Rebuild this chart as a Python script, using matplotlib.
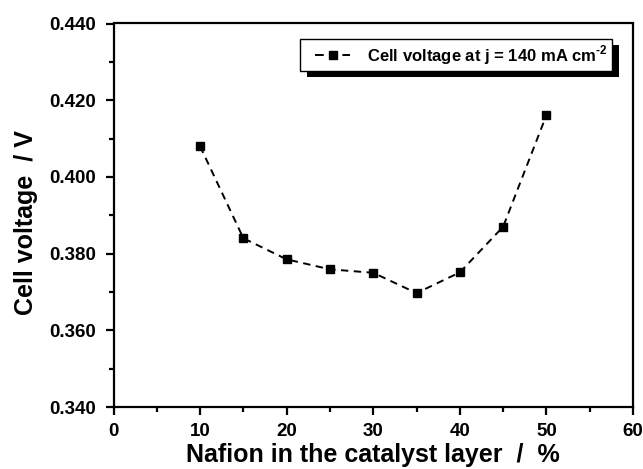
import matplotlib
matplotlib.use("Agg")
import matplotlib.pyplot as plt
from matplotlib.patches import Rectangle
from matplotlib.lines import Line2D
from matplotlib.legend_handler import HandlerLine2D

nafion = [10, 15, 20, 25, 30, 35, 40, 45, 50]
voltage = [0.408, 0.384, 0.3785, 0.3759, 0.3750, 0.3697, 0.3751, 0.3870, 0.4161]
xticks = [0, 10, 20, 30, 40, 50, 60]
yticks = [0.340, 0.360, 0.380, 0.400, 0.420, 0.440]
legend_label = r"Cell voltage at j = 140 mA cm$^{\text{-2}}$"

plt.rcParams['font.family'] = ['Liberation Sans', 'DejaVu Sans']
plt.rcParams['font.weight'] = 'bold'
plt.rcParams['mathtext.fontset'] = 'custom'
plt.rcParams['mathtext.rm'] = 'Liberation Sans:bold'
plt.rcParams['mathtext.bf'] = 'Liberation Sans:bold'

fig = plt.figure(figsize=(6.43, 4.69), dpi=100)
ax = fig.add_axes([113.5/643, 1 - 407/469, (633 - 113.5)/643, (407 - 23.5)/469])

ax.plot(nafion, voltage, color='black', linestyle=(0, (3.8, 2.8)), linewidth=1.4,
        marker='s', markersize=6.2)

ax.set_xlim(0, 60)
ax.set_ylim(0.34, 0.44)
ax.set_xticks(xticks)
ax.set_yticks(yticks)
ax.set_xticks(range(5, 60, 10), minor=True)
ax.set_yticks([0.35, 0.37, 0.39, 0.41, 0.43], minor=True)
ax.set_xticklabels([str(v) for v in xticks])
ax.set_yticklabels([f"{v:.3f}" for v in yticks])

for s in ax.spines.values():
    s.set_linewidth(1.6)
ax.tick_params(which='major', direction='out', length=5.8, width=1.6, labelsize=13.5)
ax.tick_params(axis='x', which='major', pad=6)
ax.tick_params(axis='y', which='major', pad=7)
ax.tick_params(which='minor', direction='out', length=3.5, width=1.6)
ax.tick_params(top=False, right=False)
for lab in ax.get_xticklabels() + ax.get_yticklabels():
    lab.set_fontweight('bold')

ax.set_xlabel("Nafion in the catalyst layer  /  %", fontsize=18, fontweight='bold', labelpad=2)
ax.set_ylabel("Cell voltage  / V", fontsize=18, fontweight='bold')
ax.yaxis.set_label_coords(-0.145, 0.48)

proxy = Line2D([], [], color='black', linestyle=(0, (4.5, 9.6)), linewidth=1.4,
               marker='s', markersize=6.2)
leg = ax.legend([proxy], [legend_label], loc='upper right',
                bbox_to_anchor=(612/643, 1 - 39/469), bbox_transform=fig.transFigure,
                frameon=True, fancybox=False, framealpha=1, edgecolor='black',
                prop={'weight': 'bold', 'size': 12}, handlelength=2.75, borderpad=0.25,
                handletextpad=1.0, borderaxespad=0,
                handler_map={proxy: HandlerLine2D(xpad=0.6)})
leg.get_frame().set_linewidth(1.0)
leg.set_zorder(6)

fig.canvas.draw()
bb = leg.get_window_extent().transformed(fig.transFigure.inverted())
shadow = Rectangle((bb.x0 + 7/643, bb.y0 - 6/469), bb.width, bb.height, transform=fig.transFigure,
                   facecolor='black', edgecolor='none', zorder=5, clip_on=False)
ax.add_artist(shadow)

fig.savefig("out.png", dpi=100)
